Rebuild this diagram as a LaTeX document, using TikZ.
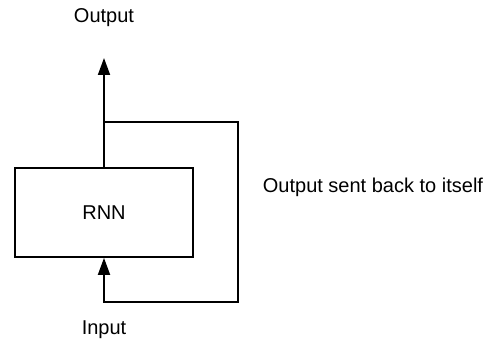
\documentclass[tikz,border=0pt]{standalone}
\usepackage{fontspec}
\setmainfont{Liberation Sans}
\usetikzlibrary{arrows.meta}

\begin{document}
\begin{tikzpicture}[x=1pt,y=-1pt,line width=1.8pt,>={Triangle[length=17pt,width=12pt]},
  font=\fontsize{20}{24}\selectfont]
  \useasboundingbox (0,0) rectangle (485,344);
  \node[draw,minimum width=178pt,minimum height=89pt,inner sep=0pt] (rnn) at (104,212.5){RNN};
  \node (out) at (104,18){Output};
  \node (in) at (104,330){Input};
  \node[anchor=west,inner sep=0pt] (lbl) at (262,187){Output sent back to itself};
  \coordinate (tip) at (104,58);
  \coordinate (tr) at (238,122);
  \coordinate (br) at (238,302);
  \draw[->] (rnn.north) -- (tip);
  \draw[->] (rnn.north |- tr) -- (tr) -- (br) -- (rnn.south |- br) -- (rnn.south);
\end{tikzpicture}
\end{document}
